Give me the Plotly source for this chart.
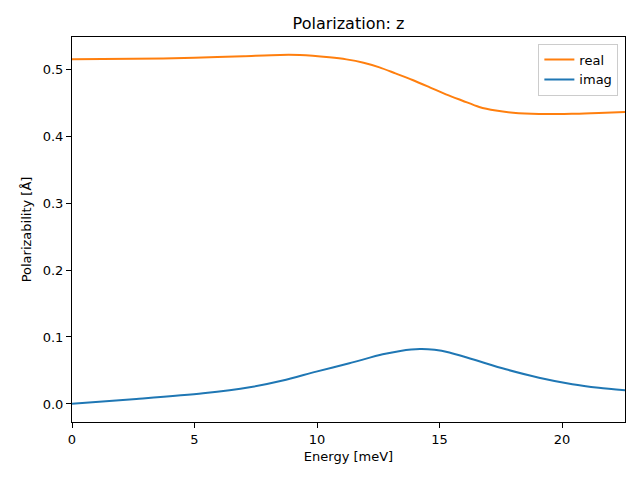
import plotly.graph_objects as go

energy_real = [0, 2.5, 5, 7, 8.5, 9.3, 10.5, 11.2, 11.9, 12.55, 13.2, 13.9, 14.6, 15.26, 15.94, 16.62, 17.3, 18.0, 19.06, 20.4, 21.5, 22.57]
real = [0.5146, 0.5152, 0.5167, 0.5192, 0.5211, 0.5209, 0.5175, 0.5144, 0.5094, 0.5025, 0.4935, 0.4836, 0.4727, 0.4622, 0.4527, 0.4434, 0.4380, 0.4347, 0.4328, 0.4332, 0.4345, 0.4358]

energy_imag = [0, 2.63, 5.35, 7.25, 8.6, 9.97, 11.32, 12.68, 13.4, 14.2, 14.8, 15.4, 16.35, 17.71, 19.06, 20.42, 21.5, 22.57]
imag = [0.0003, 0.0075, 0.0160, 0.0249, 0.0350, 0.0483, 0.0607, 0.0741, 0.0792, 0.0820, 0.0808, 0.0768, 0.0667, 0.0518, 0.0393, 0.0296, 0.0243, 0.0206]

x_ticks = [0, 5, 10, 15, 20]
y_ticks = [0.0, 0.1, 0.2, 0.3, 0.4, 0.5]

font = "DejaVu Sans"

fig = go.Figure()
fig.add_trace(go.Scatter(x=energy_real, y=real, mode="lines", name="real",
                         line=dict(color="#ff7f0e", width=2, shape="spline", smoothing=0.8)))
fig.add_trace(go.Scatter(x=energy_imag, y=imag, mode="lines", name="imag",
                         line=dict(color="#1f77b4", width=2, shape="spline", smoothing=0.8)))

axis_common = dict(showline=True, linecolor="black", linewidth=1, mirror=True,
                   ticks="outside", ticklen=5, tickwidth=1, tickcolor="black",
                   showgrid=False, zeroline=False, automargin=False,
                   tickfont=dict(family=font, size=13, color="black"))

W, H = 624, 464
fig.update_layout(
    width=W, height=H,
    paper_bgcolor="white", plot_bgcolor="white",
    margin=dict(l=64, r=7, t=29, b=50),
    font=dict(family=font, color="black"),
    title=dict(text="Polarization: z", x=0.5, xref="paper", y=1 - 15 / H,
               yref="container", yanchor="middle", xanchor="center",
               font=dict(family=font, size=16, color="black")),
    xaxis=dict(range=[0, 22.57], tickvals=x_ticks, ticktext=[str(v) for v in x_ticks],
               title=dict(text="Energy [meV]", font=dict(family=font, size=13), standoff=6),
               **axis_common),
    yaxis=dict(range=[-0.0269, 0.5478], tickvals=y_ticks, ticktext=[f"{v:.1f}" for v in y_ticks],
               title=dict(text="Polarizability [Å]", font=dict(family=font, size=13), standoff=8),
               **axis_common),
    legend=dict(x=0.988, y=0.983, xanchor="right", yanchor="top",
                bgcolor="rgba(255,255,255,0.8)", bordercolor="#cccccc", borderwidth=1,
                font=dict(family=font, size=13), tracegroupgap=2),
    showlegend=True,
)

fig.write_html("out.html")
